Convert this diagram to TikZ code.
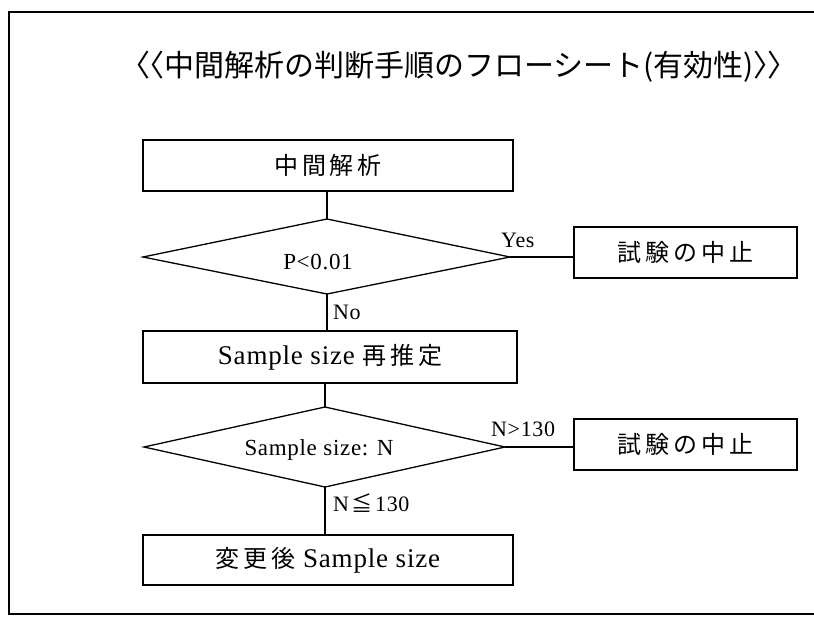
\documentclass[tikz,border=0pt]{standalone}
\usepackage{fontspec}
\setmainfont{Liberation Serif}[LetterSpace=3]
\newfontfamily\cjk{Noto Sans CJK JP}
\newfontfamily\cjkls{Noto Sans CJK JP}[LetterSpace=16]
\begin{document}
\begin{tikzpicture}[x=1pt,y=-1pt,
  box/.style={draw, line width=1.3pt, inner sep=0pt, font=\fontsize{27}{29}\selectfont},
  lbl/.style={inner sep=0pt, font=\fontsize{22}{24}\selectfont},
  conn/.style={line width=1.3pt},
  dia/.style={line width=1.3pt, line join=miter}]
\useasboundingbox (0,0) rectangle (814,641);
\draw[line width=2pt] (814,12) -| (9,614) -- (814,614);
% title
\node[inner sep=0pt, font=\fontsize{30}{32}\selectfont\cjk] (title) at (459,67)
  {〈\kern-0.55em〈中間解析の判断手順のフローシート(有効性)〉\kern-0.55em〉};
% boxes
\node[box, minimum width=370pt, minimum height=51pt] (b1) at (328,165.5) {\cjkls\fontsize{24}{26}\selectfont 中間解析};
\node[box, minimum width=374pt, minimum height=52pt] (b2) at (330,357) {Sample size {\cjkls\fontsize{24}{26}\selectfont 再推定}};
\node[box, minimum width=370pt, minimum height=50pt] (b3) at (328,560) {{\cjkls\fontsize{24}{26}\selectfont 変更後} Sample size};
\node[box, minimum width=223pt, minimum height=51pt] (s1) at (685.5,252.5) {\cjkls\fontsize{24}{26}\selectfont 試験の中止};
\node[box, minimum width=223pt, minimum height=51pt] (s2) at (685.5,444.5) {\cjkls\fontsize{24}{26}\selectfont 試験の中止};
% diamonds
\coordinate (d1t) at (327,219);
\coordinate (d1b) at (327,294);
\coordinate (d1l) at (143,257);
\coordinate (d1r) at (510,257);
\draw[dia] (d1t) -- (d1r) -- (d1b) -- (d1l) -- cycle;
\node[lbl, font=\fontsize{23}{25}\selectfont] (d1) at (318,262) {P<0.01};
\coordinate (d2t) at (325,407);
\coordinate (d2b) at (325,487);
\coordinate (d2l) at (144,447);
\coordinate (d2r) at (505,447);
\draw[dia] (d2t) -- (d2r) -- (d2b) -- (d2l) -- cycle;
\node[lbl, font=\fontsize{23}{25}\selectfont] (d2) at (319,450) {Sample size: N};
% connectors
\draw[conn] (b1.south -| d1t) -- (d1t);
\draw[conn] (d1b) -- (b2.north -| d1b);
\draw[conn] (b2.south -| d2t) -- (d2t);
\draw[conn] (d2b) -- (b3.north -| d2b);
\draw[conn] (d1r) -- (d1r -| s1.west);
\draw[conn] (d2r) -- (d2r -| s2.west);
% labels
\node[lbl, anchor=west] (yes) at (501,240) {Yes};
\node[lbl, anchor=west] (no) at (333,312) {No};
\node[lbl, anchor=west] (gt) at (491,429) {N>130};
\node[lbl, anchor=west] (le) at (333,503) {N\kern2pt{\cjk\fontsize{21}{23}\selectfont ≦}\kern3pt 130};
\end{tikzpicture}
\end{document}
